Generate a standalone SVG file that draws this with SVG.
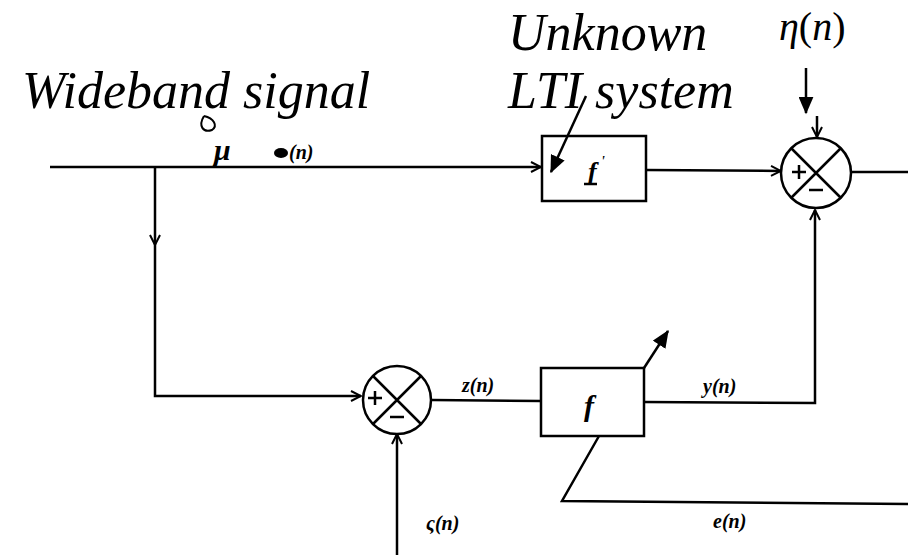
<svg xmlns="http://www.w3.org/2000/svg" width="908" height="555" viewBox="0 0 908 555">
<defs>
<marker id="open" viewBox="0 0 12 12" refX="11" refY="6" markerWidth="12" markerHeight="12" markerUnits="userSpaceOnUse" orient="auto">
<path d="M1,1 L11,6 L1,11" fill="none" stroke="#000" stroke-width="2"/>
</marker>
<marker id="solid" viewBox="0 0 14 12" refX="13" refY="6" markerWidth="18" markerHeight="15" markerUnits="userSpaceOnUse" orient="auto">
<path d="M0,0 L14,6 L0,12 Z" fill="#000"/>
</marker>
</defs>
<style>
.ln{fill:none;stroke:#000;stroke-width:2.5}
.box{fill:#fff;stroke:#000;stroke-width:2.5}
.big{font-family:"Liberation Serif","Times New Roman",serif;font-style:italic;fill:#000}
.lbl{font-family:"Liberation Serif","Times New Roman",serif;font-style:italic;font-weight:bold;fill:#000}
.eta{font-family:"Liberation Serif","Times New Roman",serif;fill:#000}
</style>
<rect width="908" height="555" fill="#fff"/>

<g id="titles">
<text class="big" x="22" y="108" style="font-size:52px">Wideband signal</text>
<text class="big" x="508" y="50" style="font-size:52px">Unknown</text>
<text class="big" x="508" y="108" style="font-size:52px">LTI system</text>
<text class="eta" x="779" y="40" style="font-size:40px"><tspan font-style="italic">η</tspan>(<tspan font-style="italic">n</tspan>)</text>
</g>

<g id="box-unknown">
<rect class="box" x="542" y="136" width="104" height="65"/>
<text class="lbl" x="588" y="180" style="font-size:26px">f</text>
<text class="lbl" x="601" y="166" style="font-size:14px">'</text>
<path class="ln" d="M584,184 L597,184" stroke-width="2"/>
</g>

<g id="box-adaptive">
<rect class="box" x="541" y="368" width="103" height="68"/>
<text class="lbl" x="584" y="416" style="font-size:30px">f</text>
</g>

<g id="sum-top">
<circle class="box" cx="816" cy="173" r="35"/>
<path class="ln" d="M791,148 L841,198 M841,148 L791,198"/>
<path class="ln" d="M792,172 L806,172 M799,165 L799,179" stroke-width="2"/>
<path class="ln" d="M809,190 L823,190" stroke-width="3"/>
</g>

<g id="sum-bottom">
<circle class="box" cx="397" cy="400" r="34"/>
<path class="ln" d="M373,376 L421,424 M421,376 L373,424"/>
<path class="ln" d="M368,398 L382,398 M375,391 L375,405" stroke-width="2"/>
<path class="ln" d="M390,417 L404,417" stroke-width="3"/>
</g>

<g id="connectors">
<path class="ln" d="M50,167 L541,167" marker-end="url(#open)"/>
<path class="ln" d="M646,170 L781,171" marker-end="url(#open)"/>
<path class="ln" d="M851,172 L908,172"/>
<path class="ln" d="M155,167 L155,245" marker-end="url(#open)"/>
<path class="ln" d="M155,245 L155,396 L361,396" marker-end="url(#open)"/>
<path class="ln" d="M432,400 L541,401"/>
<path class="ln" d="M644,402 L815,403 L815,210" marker-end="url(#open)"/>
<path class="ln" d="M599,436 L562,501 L908,504"/>
<path class="ln" d="M397,555 L397,434" marker-end="url(#open)"/>
<path class="ln" d="M644,368 L668,331" marker-end="url(#solid)"/>
<path class="ln" d="M806,68 L806,113" marker-end="url(#solid)"/>
<path class="ln" d="M817,116 L817,137" marker-end="url(#open)"/>
<path class="ln" d="M586,96 L551,172" marker-end="url(#solid)"/>
</g>

<g id="labels">
<text class="lbl" x="214" y="160" style="font-size:30px">μ</text>
<ellipse cx="281" cy="153" rx="7" ry="5" fill="#000"/>
<text class="lbl" x="289" y="159" style="font-size:20px">(n)</text>
<path d="M204,116 C198,126 203,133 212,130 C218,126 214,118 204,116" fill="none" stroke="#000" stroke-width="2"/>
<text class="lbl" x="462" y="392" style="font-size:20px">z(n)</text>
<text class="lbl" x="703" y="393" style="font-size:20px">y(n)</text>
<text class="lbl" x="713" y="528" style="font-size:20px">e(n)</text>
<text class="lbl" x="426" y="530" style="font-size:20px">ς(n)</text>
</g>
</svg>
